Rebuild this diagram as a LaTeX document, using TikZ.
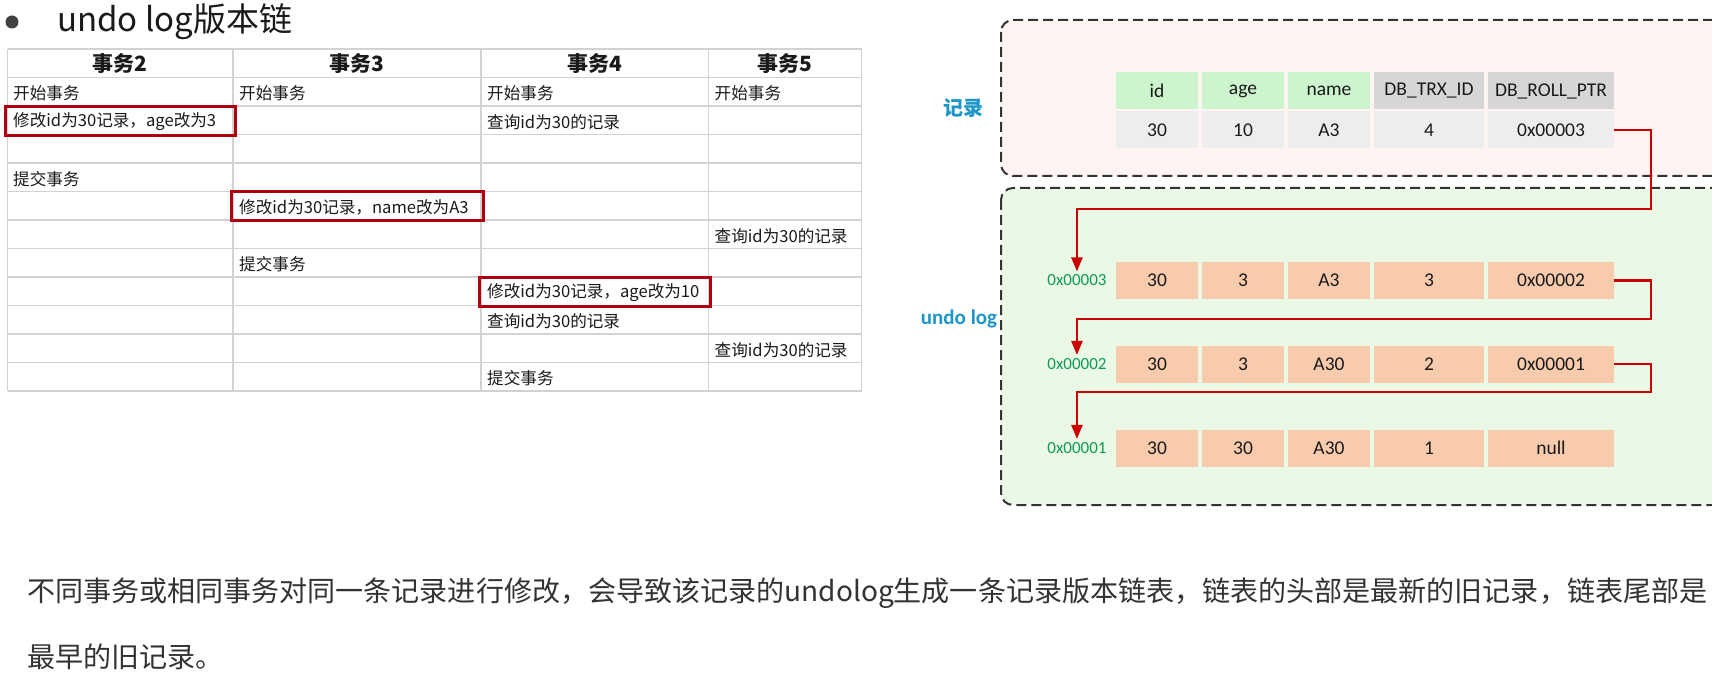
\documentclass[tikz,border=0pt]{standalone}
\usepackage{fontspec}
\setmainfont{Noto Sans CJK SC}
\newfontfamily\calfont{Carlito}
\usetikzlibrary{arrows.meta,positioning}
\definecolor{ink}{HTML}{1A1A1A}
\definecolor{ink2}{HTML}{333333}
\definecolor{gridgray}{HTML}{D2D2D2}
\definecolor{hlred}{HTML}{B00010}
\definecolor{linkred}{HTML}{CC0000}
\definecolor{keygreen}{HTML}{CDF5CD}
\definecolor{sysgray}{HTML}{D6D6D6}
\definecolor{valgray}{HTML}{EDEDED}
\definecolor{peach}{HTML}{F8CBAD}
\definecolor{pinkfill}{HTML}{FFF4F2}
\definecolor{greenfill}{HTML}{E9F9E5}
\definecolor{labelblue}{HTML}{1E96C8}
\definecolor{addrgreen}{HTML}{119A55}
\definecolor{bulletgray}{HTML}{404040}
\tikzset{
  every node/.style={text=ink},
  cellt/.style={anchor=west, inner sep=0pt, yshift=-1.5pt, font=\fontsize{16.6}{20}\selectfont},
  headt/.style={inner sep=0pt, font=\fontsize{21}{24}\selectfont\bfseries},
  gridline/.style={draw=gridgray, line width=1.8pt},
  hl/.style={draw=hlred, line width=3pt},
  fld/.style={minimum width=82pt, minimum height=37pt, inner sep=0pt, outer sep=0pt, font=\calfont\fontsize{19.5}{22}\selectfont},
  keyf/.style={fld, fill=keygreen},
  sysf/.style={fld, fill=sysgray},
  valf/.style={fld, fill=valgray},
  logf/.style={fld, fill=peach},
  addr/.style={font=\calfont\fontsize{17}{20}\selectfont, text=addrgreen},
  area/.style={draw=ink2, dashed, dash pattern=on 10pt off 5pt, line width=2pt, rounded corners=12pt},
  side/.style={text=labelblue, font=\fontsize{20}{24}\selectfont\bfseries},
  link/.style={-{Triangle[length=14pt,width=11pt]}, draw=linkred, line width=2.4pt},
  para/.style={anchor=west, inner sep=0pt, text=ink2, font=\fontsize{28.05}{32}\selectfont},
}

\begin{document}
\begin{tikzpicture}[x=1pt, y=-1pt]
  \useasboundingbox (0,0) rectangle (1712,676);
  \clip (0,0) rectangle (1712,676);
  \fill[white] (0,0) rectangle (1712,676);

  % ---- title ---------------------------------------------------------------
  \fill[bulletgray] (12,22) circle (6.5);
  \node[anchor=west, inner sep=0pt, font=\fontsize{33}{38}\selectfont] (title) at (57,22) {undo log版本链};

  % ---- left: transaction table --------------------------------------------
  \foreach \r in {0,...,12}
    \draw[gridline] (7.5,{49+28.5*\r}) -- (861.5,{49+28.5*\r});
  \foreach \x in {7.5,233,481,708.5,861.5}
    \draw[gridline] (\x,49) -- (\x,391);

  \node[headt] (h2) at (120.25,64) {事务2};
  \node[headt] (h3) at (357,64) {事务3};
  \node[headt] (h4) at (594.75,64) {事务4};
  \node[headt] (h5) at (785,64) {事务5};

  \node[cellt] (c2a) at (13,91.75) {开始事务};
  \node[cellt] (c3a) at (239,91.75) {开始事务};
  \node[cellt] (c4a) at (487,91.75) {开始事务};
  \node[cellt] (c5a) at (714.5,91.75) {开始事务};
  \node[cellt] (c2b) at (13,120.25) {修改id为30记录，age改为3};
  \node[cellt] (c4b) at (487,120.25) {查询id为30的记录};
  \node[cellt] (c2c) at (13,177.25) {提交事务};
  \node[cellt] (c3b) at (239,205.75) {修改id为30记录，name改为A3};
  \node[cellt] (c5b) at (714.5,234.25) {查询id为30的记录};
  \node[cellt] (c3c) at (239,262.75) {提交事务};
  \node[cellt] (c4c) at (487,291.25) {修改id为30记录，age改为10};
  \node[cellt] (c4d) at (487,319.75) {查询id为30的记录};
  \node[cellt] (c5c) at (714.5,348.25) {查询id为30的记录};
  \node[cellt] (c4e) at (487,376.75) {提交事务};

  % edits that write undo log
  \draw[hl] (5.5,107) rectangle (235.5,136);
  \draw[hl] (231.5,192) rectangle (483,221);
  \draw[hl] (479.5,277.5) rectangle (710.5,306.5);

  % ---- right: record and undo log chain -----------------------------------
  \draw[area, fill=pinkfill] (1001,20) rectangle (1740,176);
  \draw[area, fill=greenfill] (1001,188) rectangle (1740,505);

  \node[side] (reclbl) at (963,108) {记录};
  \node[side, font=\calfont\bfseries\fontsize{21}{24}\selectfont] (undolbl) at (959,319) {undo log};

  \node[keyf] (rid) at (1157,91) {id};
  \node[keyf, right=4pt of rid] (rage) {age};
  \node[keyf, right=4pt of rage] (rname) {name};
  \node[sysf, minimum width=110pt, right=4pt of rname] (rtrx) {DB\_TRX\_ID};
  \node[sysf, minimum width=126pt, right=4pt of rtrx] (rptr) {DB\_ROLL\_PTR};
  \node[valf, below=2pt of rid] (vid) {30};
  \node[valf, below=2pt of rage] (vage) {10};
  \node[valf, below=2pt of rname] (vname) {A3};
  \node[valf, minimum width=110pt, below=2pt of rtrx] (vtrx) {4};
  \node[valf, minimum width=126pt, below=2pt of rptr] (vptr) {0x00003};

  \node[logf] (n3id) at (1157,280.5) {30};
  \node[logf, right=4pt of n3id] (n3age) {3};
  \node[logf, right=4pt of n3age] (n3name) {A3};
  \node[logf, minimum width=110pt, right=4pt of n3name] (n3trx) {3};
  \node[logf, minimum width=126pt, right=4pt of n3trx] (n3ptr) {0x00002};
  \node[addr, left=6pt of n3id] (p3) {0x00003};

  \node[logf] (n2id) at (1157,364) {30};
  \node[logf, right=4pt of n2id] (n2age) {3};
  \node[logf, right=4pt of n2age] (n2name) {A30};
  \node[logf, minimum width=110pt, right=4pt of n2name] (n2trx) {2};
  \node[logf, minimum width=126pt, right=4pt of n2trx] (n2ptr) {0x00001};
  \node[addr, left=6pt of n2id] (p2) {0x00002};

  \node[logf] (n1id) at (1157,448) {30};
  \node[logf, right=4pt of n1id] (n1age) {30};
  \node[logf, right=4pt of n1age] (n1name) {A30};
  \node[logf, minimum width=110pt, right=4pt of n1name] (n1trx) {1};
  \node[logf, minimum width=126pt, right=4pt of n1trx] (n1ptr) {null};
  \node[addr, left=6pt of n1id] (p1) {0x00001};

  % roll pointers
  \coordinate (k3) at (1651,209);
  \coordinate (k2) at (1651,319);
  \coordinate (k1) at (1651,392);
  \draw[link] (vptr.east) -| (k3) -| (p3.north);
  \draw[link] (n3ptr.east) -| (k2) -| (p2.north);
  \draw[link] (n2ptr.east) -| (k1) -| (p1.north);

  % ---- caption -------------------------------------------------------------
  \node[para] (desc1) at (27,593) {不同事务或相同事务对同一条记录进行修改，会导致该记录的undolog生成一条记录版本链表，链表的头部是最新的旧记录，链表尾部是};
  \node[para] (desc2) at (27,657) {最早的旧记录。};
\end{tikzpicture}
\end{document}
